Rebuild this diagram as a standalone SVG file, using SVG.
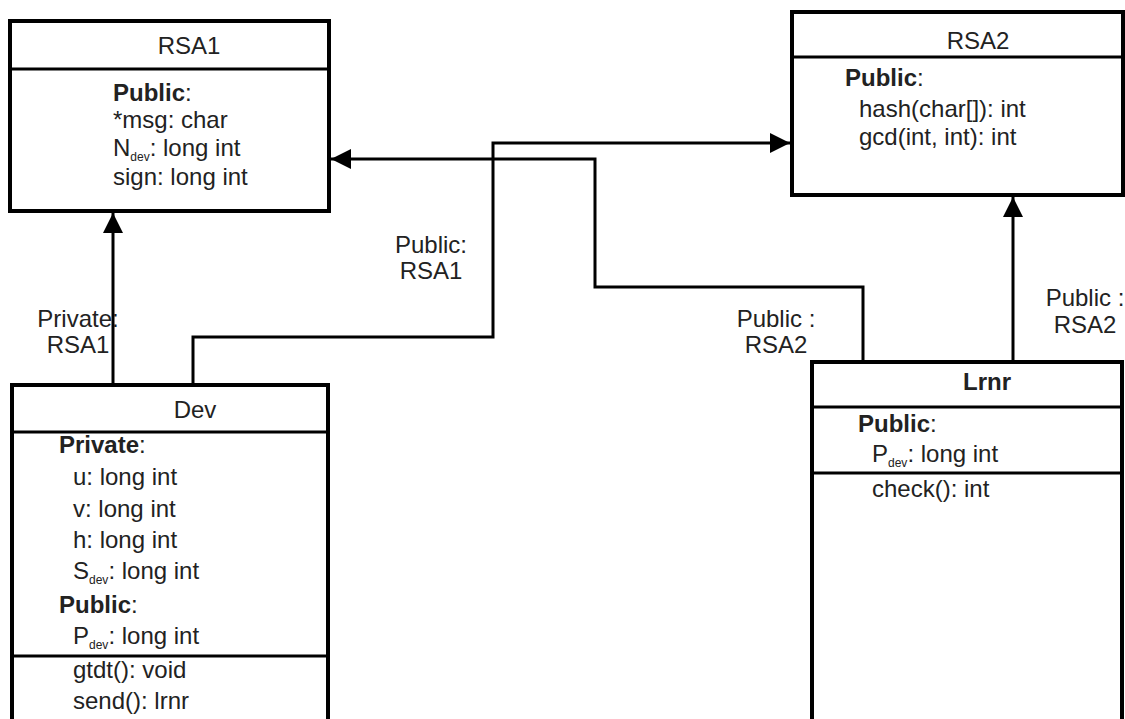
<svg xmlns="http://www.w3.org/2000/svg" width="1125" height="719" viewBox="0 0 1125 719">
<defs>
<marker id="arr" markerWidth="22" markerHeight="22" refX="20" refY="10" orient="auto" markerUnits="userSpaceOnUse">
<path d="M0,0 L20,10 L0,20 Z" fill="#000"/>
</marker>
<style>
text{font-family:"Liberation Sans",Arial,sans-serif;font-size:24px;fill:#222}
.b{font-weight:bold}
.sub{font-size:12px}
.box{fill:#fff;stroke:#000;stroke-width:4}
.div{stroke:#000;stroke-width:3;fill:none}
.con{stroke:#000;stroke-width:3;fill:none}
</style>
</defs>
<rect width="1125" height="719" fill="#fff"/>
<g id="connectors">
<path class="con" d="M113,385 V213" marker-end="url(#arr)"/>
<path class="con" d="M193,385 V337 H493 V143 H790" marker-end="url(#arr)"/>
<path class="con" d="M863,362 V287 H595 V159 H331" marker-end="url(#arr)"/>
<path class="con" d="M1013,362 V197" marker-end="url(#arr)"/>
<text x="78" y="327" text-anchor="middle">Private:</text>
<text x="78" y="353" text-anchor="middle">RSA1</text>
<text x="431" y="253" text-anchor="middle">Public:</text>
<text x="431" y="279" text-anchor="middle">RSA1</text>
<text x="776" y="327" text-anchor="middle">Public :</text>
<text x="776" y="353" text-anchor="middle">RSA2</text>
<text x="1085" y="306" text-anchor="middle">Public :</text>
<text x="1085" y="333" text-anchor="middle">RSA2</text>
</g>
<g id="RSA1">
<rect class="box" x="10" y="21" width="319" height="190"/>
<line class="div" x1="10" y1="69" x2="329" y2="69"/>
<text x="189" y="54" text-anchor="middle">RSA1</text>
<text x="113" y="101"><tspan class="b">Public</tspan>:</text>
<text x="113" y="128">*msg: char</text>
<text x="113" y="156">N<tspan class="sub" dy="5">dev</tspan><tspan dy="-5">: long int</tspan></text>
<text x="113" y="185">sign: long int</text>
</g>
<g id="RSA2">
<rect class="box" x="792" y="12" width="331" height="183"/>
<line class="div" x1="792" y1="57" x2="1123" y2="57"/>
<text x="978" y="49" text-anchor="middle">RSA2</text>
<text x="845" y="86"><tspan class="b">Public</tspan>:</text>
<text x="859" y="117">hash(char[]): int</text>
<text x="859" y="145">gcd(int, int): int</text>
</g>
<g id="Dev">
<path class="box" d="M12,725 V385 H328 V725"/>
<line class="div" x1="12" y1="432" x2="328" y2="432"/>
<line class="div" x1="12" y1="656" x2="328" y2="656"/>
<text x="195" y="418" text-anchor="middle">Dev</text>
<text x="59" y="453"><tspan class="b">Private</tspan>:</text>
<text x="73" y="485">u: long int</text>
<text x="73" y="517">v: long int</text>
<text x="73" y="548">h: long int</text>
<text x="73" y="579">S<tspan class="sub" dy="5">dev</tspan><tspan dy="-5">: long int</tspan></text>
<text x="59" y="613"><tspan class="b">Public</tspan>:</text>
<text x="73" y="644">P<tspan class="sub" dy="5">dev</tspan><tspan dy="-5">: long int</tspan></text>
<text x="73" y="678">gtdt(): void</text>
<text x="73" y="709">send(): lrnr</text>
</g>
<g id="Lrnr">
<path class="box" d="M812,725 V362 H1122 V725"/>
<line class="div" x1="812" y1="407" x2="1122" y2="407"/>
<line class="div" x1="812" y1="473" x2="1122" y2="473"/>
<text x="987" y="390" text-anchor="middle" class="b">Lrnr</text>
<text x="858" y="432"><tspan class="b">Public</tspan>:</text>
<text x="872" y="462">P<tspan class="sub" dy="5">dev</tspan><tspan dy="-5">: long int</tspan></text>
<text x="872" y="497">check(): int</text>
</g>
</svg>
